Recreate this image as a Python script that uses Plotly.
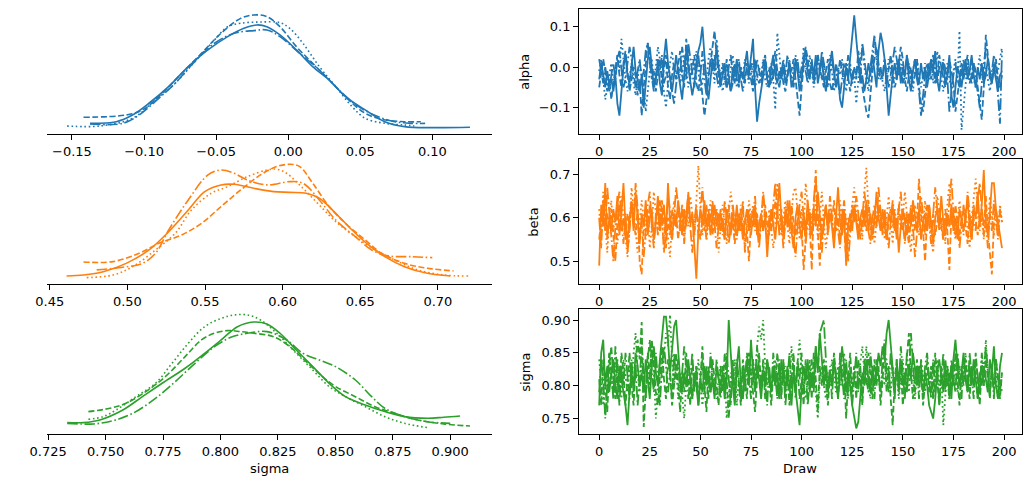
import plotly.graph_objects as go
from plotly.subplots import make_subplots

# ---------------- data ----------------
params = ["alpha", "beta", "sigma"]
colors = ["#1f77b4", "#ff7f0e", "#2ca02c"]
draws = list(range(200))

# KDE curves (x value, density) per chain
kde_alpha_x = [
    [-0.1375,-0.1193,-0.108,-0.0966,-0.083,-0.0693,-0.0557,-0.042,-0.0307,-0.0216,-0.0148,-0.0057,0.0057,0.017,0.0284,0.0398,0.0534,0.067,0.0807,0.1,0.1261],
    [-0.142,-0.1125,-0.1011,-0.0898,-0.0761,-0.0602,-0.0466,-0.033,-0.0239,-0.0148,-0.0057,0.0057,0.017,0.0307,0.042,0.0534,0.0648,0.0807,0.092],
    [-0.1534,-0.1307,-0.108,-0.092,-0.0784,-0.0648,-0.0511,-0.042,-0.033,-0.0193,-0.0057,0.0011,0.0102,0.0216,0.033,0.0443,0.0534,0.067,0.0807,0.0875],
    [-0.1375,-0.1148,-0.1034,-0.0898,-0.0784,-0.067,-0.0511,-0.0375,-0.0239,-0.0148,-0.0057,0.008,0.0216,0.0352,0.0489,0.0625,0.0739,0.0852,0.095],
]
kde_alpha_y = [
    [0.34,0.47,1.0,1.93,3.25,4.83,6.15,7.2,7.86,8.13,7.99,7.34,6.15,4.83,3.77,2.45,1.4,0.47,0.08,0.0,0.03],
    [0.82,1.0,1.40,2.45,4.04,5.88,7.47,8.65,8.92,8.79,7.99,6.41,5.09,3.51,2.19,1.14,0.66,0.47,0.47],
    [0.13,0.13,0.74,2.19,3.51,5.22,6.94,7.99,8.26,8.36,8.31,7.86,6.68,4.83,3.25,1.66,0.74,0.34,0.21,0.13],
    [0.29,0.34,1.0,2.32,3.51,4.96,6.68,7.47,7.68,7.73,7.20,5.88,4.56,2.98,1.66,0.87,0.47,0.34,0.34],
]
kde_beta_x = [
    [0.4608,0.4717,0.4844,0.4992,0.5139,0.5266,0.5392,0.5498,0.5603,0.5688,0.5814,0.5941,0.6046,0.6152,0.6236,0.6342,0.6447,0.6553,0.6658,0.6785,0.6932,0.7080],
    [0.4717,0.4907,0.5076,0.5203,0.5350,0.5477,0.5603,0.5730,0.5857,0.5962,0.6046,0.6110,0.6194,0.6300,0.6405,0.6532,0.6637,0.6785,0.6932,0.7101],
    [0.4738,0.4907,0.5034,0.5181,0.5308,0.5413,0.5540,0.5646,0.5772,0.5899,0.5962,0.6025,0.6131,0.6236,0.6342,0.6468,0.6595,0.6722,0.6869,0.7038,0.7196],
    [0.4802,0.4970,0.5097,0.5181,0.5266,0.5392,0.5519,0.5603,0.5688,0.5772,0.5899,0.6046,0.6131,0.6236,0.6342,0.6468,0.6574,0.6679,0.6827,0.6964],
]
kde_beta_y = [
    [0.13,0.21,0.47,1.13,2.19,3.64,5.36,6.81,7.34,7.39,7.07,6.81,6.75,6.68,6.28,5.09,3.77,2.59,1.66,0.87,0.34,0.13],
    [1.24,1.27,1.93,2.72,3.38,4.30,5.62,6.94,8.13,8.79,8.97,8.79,7.47,5.62,4.30,2.98,1.93,1.13,0.74,0.53],
    [0.0,0.21,0.87,2.19,3.51,5.36,6.68,7.20,7.99,8.52,8.58,8.26,7.07,5.75,4.43,3.25,2.19,1.40,0.61,0.21,0.13],
    [0.61,0.82,1.13,1.93,3.77,6.15,8.13,8.52,8.26,7.73,7.34,7.60,7.47,6.15,4.56,3.25,2.19,1.72,1.66,1.58],
]
kde_sigma_x = [
    [0.7333,0.7404,0.7475,0.7575,0.7660,0.7746,0.7846,0.7931,0.8003,0.8074,0.8145,0.8202,0.8259,0.8330,0.8402,0.8473,0.8544,0.8630,0.8715,0.8801,0.8901,0.8972,0.9043],
    [0.7425,0.7518,0.7589,0.7675,0.7760,0.7846,0.7917,0.7974,0.8031,0.8088,0.8145,0.8231,0.8302,0.8373,0.8444,0.8501,0.8587,0.8672,0.8758,0.8858,0.8972,0.9086],
    [0.7425,0.7489,0.7546,0.7632,0.7717,0.7789,0.7860,0.7931,0.8003,0.8060,0.8117,0.8174,0.8245,0.8316,0.8402,0.8473,0.8544,0.8630,0.8715,0.8801,0.8901],
    [0.7333,0.7447,0.7532,0.7618,0.7717,0.7803,0.7889,0.7974,0.8045,0.8117,0.8202,0.8288,0.8359,0.8430,0.8501,0.8587,0.8658,0.8715,0.8801,0.8901,0.9000],
]
kde_sigma_y = [
    [0.40,0.40,0.61,1.40,2.45,3.51,4.70,5.88,6.94,7.99,8.36,8.21,7.47,6.15,4.83,3.51,2.45,1.79,1.27,0.87,0.74,0.82,0.92],
    [1.27,1.53,1.93,2.85,4.04,5.62,6.94,7.47,7.68,7.60,7.47,7.20,6.41,5.22,4.04,3.25,2.45,1.66,1.13,0.61,0.29,0.13],
    [0.66,0.87,1.40,2.45,3.51,5.09,6.68,7.99,8.65,8.92,8.92,8.52,7.47,6.15,4.56,3.25,2.45,1.66,0.87,0.34,0.0],
    [0.34,0.29,0.55,1.13,2.32,3.64,5.09,6.41,7.15,7.47,7.60,6.94,5.88,5.36,4.83,3.77,2.45,1.53,0.87,0.47,0.34],
]

# Trace values (4 chains x 200 draws)
alpha_c0 = [-0.03,0.01,-0.02,-0.05,-0.01,-0.04,-0.03,-0.06,-0.02,-0.09,-0.12,-0.05,0.00,0.03,-0.02,-0.04,0.01,0.05,-0.01,-0.03,
-0.06,-0.02,-0.10,-0.04,0.02,0.05,-0.01,-0.05,-0.03,0.01,-0.04,-0.07,0.02,0.07,0.01,-0.03,-0.06,-0.02,0.03,-0.01,
-0.05,-0.08,-0.02,0.04,0.00,-0.03,-0.07,-0.04,0.01,0.04,0.06,0.10,0.02,-0.04,-0.08,-0.03,0.02,-0.01,0.05,0.00,
-0.04,-0.02,0.01,-0.05,-0.03,-0.06,0.00,-0.02,0.02,-0.04,-0.01,-0.03,0.01,0.04,-0.02,0.02,0.07,-0.05,-0.135,-0.09,
-0.06,-0.02,0.01,-0.03,-0.05,0.00,0.03,-0.02,-0.04,-0.01,-0.03,0.00,-0.04,-0.02,0.01,-0.05,-0.03,0.02,-0.01,-0.06,
-0.03,0.02,0.04,-0.01,-0.03,0.01,-0.02,0.03,-0.04,-0.01,0.02,-0.03,-0.06,-0.02,0.01,0.04,-0.01,-0.05,-0.02,-0.08,
-0.10,-0.04,0.00,-0.03,0.02,0.06,0.128,0.07,0.01,-0.04,-0.02,-0.06,-0.03,0.01,-0.02,0.03,-0.01,-0.05,0.04,0.085,
0.06,0.02,-0.05,-0.12,-0.07,-0.02,0.01,-0.03,0.02,-0.04,0.00,-0.02,0.03,-0.03,-0.06,-0.01,0.02,-0.02,-0.04,0.01,
-0.03,0.00,-0.05,-0.02,0.02,-0.01,0.04,-0.03,-0.06,-0.01,0.01,-0.04,-0.02,0.03,-0.07,-0.10,-0.04,0.00,-0.02,-0.05,
-0.01,0.02,-0.03,-0.01,0.03,-0.02,-0.05,0.00,-0.03,0.01,-0.04,-0.02,0.02,-0.01,-0.04,0.00,-0.03,-0.06,-0.02,-0.01]
alpha_c1 = [-0.05,-0.02,0.02,-0.01,-0.06,-0.03,-0.08,-0.04,-0.01,0.03,-0.02,-0.05,0.01,0.04,-0.01,-0.06,-0.03,0.00,-0.02,-0.07,
-0.03,-0.12,-0.05,0.01,0.06,0.02,-0.03,-0.01,-0.06,-0.02,0.02,-0.04,-0.01,0.03,-0.05,-0.08,-0.02,0.01,-0.03,0.00,
0.04,-0.02,-0.05,0.07,0.02,-0.03,-0.01,0.03,-0.04,-0.06,-0.02,-0.07,-0.12,-0.08,-0.02,0.01,0.05,0.09,0.03,-0.03,
-0.05,-0.01,-0.03,0.02,-0.02,-0.06,-0.04,0.01,-0.03,-0.05,0.00,-0.02,-0.04,0.01,-0.01,-0.03,-0.06,0.02,-0.02,-0.04,
-0.02,0.01,0.03,-0.02,-0.05,-0.03,0.00,0.04,-0.01,-0.03,0.00,-0.04,-0.06,-0.02,0.01,-0.01,0.02,-0.03,-0.08,-0.12,
-0.05,0.00,0.05,0.02,-0.02,0.01,-0.04,-0.02,0.03,0.00,-0.03,-0.05,-0.01,0.02,-0.04,-0.06,-0.03,0.01,-0.02,0.02,
-0.01,-0.04,0.01,-0.03,-0.06,-0.02,0.00,-0.03,0.04,0.01,-0.05,-0.08,-0.11,-0.125,-0.06,-0.01,0.02,0.05,0.01,-0.03,
-0.02,0.02,-0.04,-0.01,0.03,-0.02,-0.05,-0.03,0.01,0.05,0.02,-0.03,-0.06,-0.02,0.00,-0.04,-0.02,0.02,-0.05,-0.09,
-0.11,-0.06,-0.02,0.01,-0.03,0.00,-0.04,-0.02,0.03,0.00,-0.03,-0.05,-0.02,0.02,-0.01,-0.04,-0.11,-0.07,-0.02,0.01,
-0.03,0.00,0.03,-0.02,-0.04,0.01,-0.01,-0.05,-0.09,-0.13,-0.05,0.08,0.03,-0.02,-0.04,0.00,0.02,-0.03,-0.05,-0.02]
alpha_c2 = [-0.01,0.02,-0.03,-0.08,-0.05,-0.02,0.01,-0.04,-0.02,0.03,-0.01,0.07,0.02,-0.03,-0.06,-0.02,0.01,-0.04,-0.07,-0.03,
0.01,-0.02,-0.05,-0.11,-0.06,-0.01,0.02,-0.03,0.00,0.05,0.02,-0.03,-0.06,-0.10,-0.04,0.01,0.04,-0.01,-0.03,0.00,
-0.04,-0.02,0.03,0.00,-0.05,-0.03,0.02,-0.01,0.04,-0.02,-0.06,-0.04,0.01,-0.03,0.02,0.05,0.00,-0.04,0.07,0.02,
-0.03,-0.06,-0.02,0.01,-0.04,-0.01,0.03,-0.02,-0.05,-0.03,0.00,-0.02,0.02,-0.01,-0.04,-0.02,0.01,-0.05,-0.03,0.00,
-0.02,0.02,-0.03,-0.05,-0.02,0.01,-0.03,-0.105,0.085,0.03,-0.02,0.01,-0.04,-0.02,0.02,-0.03,-0.01,0.03,0.00,-0.04,
-0.02,0.05,0.01,-0.03,0.03,-0.01,-0.05,-0.02,0.02,0.00,-0.03,0.01,-0.04,-0.02,0.03,-0.01,-0.06,-0.03,0.00,-0.02,
0.02,-0.03,-0.06,-0.02,0.01,-0.04,-0.02,-0.09,-0.04,0.02,0.05,0.00,-0.03,-0.06,-0.02,0.01,0.07,0.02,-0.03,-0.01,
-0.04,-0.06,-0.02,0.02,-0.01,-0.05,-0.03,0.01,-0.02,0.03,-0.01,-0.04,-0.02,0.01,-0.03,-0.06,-0.01,0.02,-0.02,-0.05,
-0.02,0.01,-0.03,-0.01,0.02,-0.04,-0.02,0.04,0.00,-0.03,-0.06,-0.02,0.01,-0.03,-0.05,-0.01,0.02,-0.03,0.09,-0.155,
-0.10,-0.03,0.01,-0.02,0.02,-0.03,-0.05,-0.01,0.03,-0.02,-0.04,0.00,-0.03,-0.06,-0.02,0.01,-0.03,-0.01,0.02,0.05]
alpha_c3 = [0.02,-0.01,-0.04,0.00,-0.03,-0.06,-0.02,0.01,-0.03,0.02,0.04,-0.01,-0.05,-0.03,0.01,0.05,0.02,-0.02,-0.05,-0.01,
0.02,-0.03,-0.01,0.04,0.06,0.01,-0.03,-0.06,-0.02,0.02,-0.01,0.03,-0.04,-0.02,0.01,-0.03,-0.06,-0.09,-0.04,0.00,
-0.02,0.05,0.01,-0.03,0.06,0.02,-0.02,-0.05,-0.01,0.03,-0.02,0.04,-0.03,-0.07,-0.03,0.02,-0.01,0.03,-0.02,-0.05,
-0.02,0.01,-0.03,-0.05,0.00,0.03,-0.02,-0.04,-0.01,0.02,-0.03,-0.06,-0.02,0.00,-0.03,0.01,-0.04,-0.02,0.02,-0.01,
-0.04,-0.01,0.02,-0.03,0.00,-0.04,-0.02,0.01,-0.03,-0.05,-0.01,0.02,-0.02,0.03,0.00,-0.03,-0.05,-0.01,0.02,-0.03,
0.00,0.03,-0.01,-0.04,-0.02,0.02,-0.03,-0.01,0.03,-0.02,0.04,0.01,-0.03,-0.05,-0.01,0.02,-0.02,0.00,-0.04,-0.07,
-0.03,0.01,-0.02,0.03,-0.01,-0.04,0.00,-0.02,0.02,-0.03,0.06,0.02,-0.02,-0.04,0.00,0.04,0.08,0.03,-0.02,0.00,
-0.03,0.02,-0.01,-0.05,-0.02,0.01,0.05,0.02,-0.02,0.00,-0.04,-0.02,0.03,0.00,-0.03,-0.01,0.02,-0.03,-0.06,-0.12,
-0.07,-0.02,0.01,-0.03,0.00,0.03,-0.02,-0.04,0.00,-0.02,0.02,-0.01,-0.03,-0.11,-0.06,-0.02,0.01,-0.03,-0.05,-0.01,
0.02,-0.02,0.00,-0.04,-0.02,0.01,-0.03,-0.06,-0.10,-0.04,0.01,0.05,0.02,-0.03,-0.01,0.03,0.00,-0.06,-0.14,0.04]

beta_c0 = [0.49,0.63,0.58,0.68,0.55,0.60,0.57,0.62,0.59,0.65,0.56,0.61,0.68,0.58,0.55,0.60,0.63,0.57,0.66,0.59,
0.54,0.61,0.58,0.64,0.56,0.60,0.62,0.55,0.59,0.65,0.57,0.60,0.63,0.56,0.68,0.59,0.55,0.61,0.58,0.64,
0.60,0.56,0.62,0.58,0.65,0.59,0.61,0.54,0.46,0.57,0.62,0.59,0.64,0.58,0.61,0.56,0.60,0.63,0.58,0.61,
0.57,0.60,0.55,0.62,0.59,0.56,0.61,0.58,0.63,0.57,0.60,0.55,0.59,0.62,0.57,0.60,0.58,0.63,0.56,0.59,
0.61,0.57,0.60,0.51,0.58,0.62,0.59,0.55,0.61,0.68,0.60,0.56,0.62,0.58,0.64,0.57,0.53,0.60,0.63,0.58,
0.55,0.61,0.57,0.64,0.59,0.56,0.62,0.58,0.66,0.60,0.55,0.59,0.63,0.57,0.61,0.58,0.53,0.60,0.67,0.59,
0.56,0.62,0.49,0.58,0.61,0.57,0.63,0.59,0.55,0.60,0.62,0.58,0.64,0.57,0.61,0.56,0.59,0.66,0.60,0.57,
0.62,0.58,0.55,0.61,0.59,0.63,0.57,0.60,0.52,0.58,0.62,0.59,0.56,0.61,0.58,0.64,0.60,0.57,0.62,0.55,
0.59,0.61,0.57,0.63,0.58,0.54,0.60,0.62,0.58,0.65,0.59,0.56,0.61,0.58,0.63,0.57,0.60,0.55,0.62,0.59,
0.57,0.61,0.64,0.58,0.55,0.62,0.60,0.66,0.58,0.63,0.71,0.59,0.56,0.61,0.68,0.68,0.62,0.59,0.56,0.53]
beta_c1 = [0.55,0.60,0.64,0.57,0.61,0.58,0.62,0.56,0.50,0.59,0.63,0.57,0.60,0.55,0.61,0.58,0.64,0.59,0.56,0.62,
0.50,0.47,0.58,0.61,0.57,0.63,0.59,0.55,0.60,0.62,0.57,0.64,0.59,0.53,0.60,0.56,0.62,0.58,0.61,0.55,
0.59,0.63,0.57,0.60,0.65,0.58,0.61,0.56,0.62,0.59,0.55,0.60,0.57,0.63,0.58,0.61,0.56,0.60,0.62,0.57,
0.61,0.58,0.55,0.60,0.63,0.57,0.59,0.54,0.61,0.58,0.62,0.56,0.60,0.57,0.50,0.59,0.62,0.58,0.61,0.55,
0.60,0.57,0.63,0.59,0.56,0.61,0.58,0.64,0.60,0.57,0.62,0.55,0.59,0.61,0.57,0.63,0.59,0.56,0.60,0.62,
0.58,0.48,0.55,0.61,0.59,0.48,0.62,0.71,0.57,0.49,0.60,0.58,0.63,0.56,0.61,0.59,0.64,0.57,0.60,0.55,
0.62,0.58,0.50,0.60,0.57,0.63,0.59,0.61,0.56,0.60,0.58,0.62,0.57,0.64,0.59,0.55,0.61,0.58,0.63,0.60,
0.57,0.61,0.55,0.59,0.62,0.58,0.60,0.56,0.63,0.59,0.57,0.61,0.58,0.54,0.60,0.62,0.57,0.59,0.69,0.61,
0.57,0.50,0.60,0.63,0.58,0.61,0.56,0.59,0.62,0.58,0.55,0.60,0.57,0.48,0.61,0.58,0.63,0.59,0.56,0.60,
0.62,0.58,0.54,0.61,0.57,0.63,0.59,0.56,0.60,0.62,0.58,0.65,0.57,0.52,0.47,0.59,0.62,0.58,0.61,0.60]
beta_c2 = [0.62,0.55,0.66,0.58,0.52,0.60,0.64,0.57,0.61,0.54,0.59,0.65,0.60,0.56,0.51,0.58,0.67,0.62,0.57,0.52,
0.59,0.64,0.60,0.55,0.62,0.53,0.58,0.66,0.61,0.57,0.63,0.59,0.54,0.60,0.56,0.51,0.59,0.64,0.58,0.63,
0.57,0.61,0.55,0.62,0.58,0.65,0.61,0.56,0.64,0.72,0.62,0.56,0.61,0.55,0.59,0.64,0.60,0.57,0.62,0.52,
0.58,0.63,0.59,0.54,0.61,0.66,0.62,0.56,0.60,0.57,0.63,0.58,0.53,0.59,0.64,0.60,0.63,0.57,0.61,0.55,
0.59,0.65,0.60,0.55,0.62,0.58,0.53,0.57,0.68,0.62,0.56,0.60,0.64,0.58,0.54,0.61,0.66,0.67,0.60,0.55,
0.62,0.57,0.68,0.63,0.56,0.61,0.58,0.64,0.55,0.60,0.66,0.59,0.53,0.58,0.63,0.60,0.56,0.62,0.58,0.64,
0.57,0.62,0.60,0.54,0.58,0.63,0.67,0.61,0.56,0.60,0.55,0.66,0.715,0.62,0.57,0.60,0.54,0.59,0.63,0.58,
0.61,0.55,0.60,0.65,0.59,0.54,0.62,0.58,0.63,0.57,0.60,0.66,0.61,0.56,0.52,0.59,0.63,0.60,0.56,0.62,
0.58,0.64,0.57,0.61,0.55,0.52,0.60,0.65,0.62,0.57,0.60,0.54,0.63,0.68,0.61,0.58,0.55,0.59,0.64,0.60,
0.56,0.62,0.58,0.53,0.60,0.64,0.69,0.62,0.57,0.60,0.55,0.62,0.58,0.65,0.60,0.56,0.61,0.57,0.63,0.59]
beta_c3 = [0.60,0.53,0.64,0.57,0.67,0.61,0.55,0.50,0.58,0.63,0.66,0.59,0.54,0.61,0.52,0.57,0.64,0.60,0.68,0.62,
0.55,0.59,0.51,0.57,0.63,0.66,0.58,0.53,0.61,0.56,0.64,0.60,0.52,0.58,0.65,0.62,0.55,0.60,0.67,0.63,
0.57,0.62,0.54,0.60,0.66,0.58,0.52,0.59,0.63,0.56,0.61,0.67,0.60,0.55,0.62,0.57,0.64,0.59,0.53,0.58,
0.62,0.56,0.64,0.60,0.54,0.58,0.63,0.59,0.55,0.61,0.57,0.64,0.52,0.58,0.62,0.56,0.60,0.65,0.58,0.53,
0.59,0.66,0.61,0.55,0.60,0.57,0.63,0.68,0.62,0.56,0.59,0.53,0.60,0.64,0.58,0.62,0.55,0.51,0.58,0.63,
0.66,0.60,0.54,0.59,0.62,0.56,0.64,0.69,0.61,0.57,0.52,0.59,0.63,0.58,0.65,0.60,0.55,0.61,0.57,0.53,
0.60,0.64,0.58,0.50,0.56,0.62,0.59,0.65,0.61,0.55,0.60,0.66,0.62,0.57,0.54,0.60,0.63,0.58,0.67,0.61,
0.56,0.62,0.58,0.53,0.59,0.64,0.60,0.55,0.62,0.66,0.59,0.54,0.61,0.57,0.63,0.58,0.51,0.57,0.62,0.65,
0.60,0.56,0.63,0.59,0.54,0.61,0.67,0.62,0.57,0.60,0.55,0.62,0.58,0.64,0.69,0.61,0.56,0.60,0.53,0.58,
0.63,0.59,0.66,0.61,0.55,0.60,0.57,0.64,0.68,0.62,0.56,0.59,0.53,0.61,0.57,0.64,0.60,0.55,0.62,0.59]

sigma_c0 = [0.77,0.85,0.87,0.80,0.83,0.79,0.82,0.84,0.80,0.78,0.83,0.81,0.79,0.77,0.74,0.79,0.82,0.80,0.85,0.83,
0.80,0.82,0.79,0.84,0.81,0.78,0.83,0.86,0.82,0.80,0.84,0.88,0.905,0.905,0.87,0.82,0.85,0.89,0.90,0.85,
0.81,0.79,0.82,0.80,0.84,0.81,0.78,0.82,0.80,0.77,0.81,0.79,0.83,0.80,0.82,0.79,0.81,0.78,0.83,0.81,
0.80,0.82,0.78,0.81,0.90,0.85,0.80,0.77,0.83,0.86,0.80,0.78,0.82,0.84,0.80,0.87,0.82,0.79,0.83,0.81,
0.78,0.82,0.80,0.84,0.81,0.79,0.83,0.80,0.82,0.78,0.84,0.81,0.79,0.83,0.80,0.77,0.82,0.79,0.76,0.74,
0.80,0.83,0.81,0.84,0.79,0.82,0.80,0.86,0.82,0.88,0.84,0.80,0.83,0.79,0.82,0.80,0.84,0.81,0.78,0.82,
0.86,0.83,0.79,0.82,0.80,0.77,0.75,0.735,0.745,0.79,0.82,0.80,0.84,0.81,0.79,0.83,0.80,0.82,0.85,0.83,
0.86,0.84,0.88,0.90,0.86,0.82,0.79,0.83,0.81,0.84,0.80,0.82,0.79,0.83,0.81,0.85,0.82,0.80,0.83,0.81,
0.79,0.82,0.80,0.77,0.76,0.75,0.78,0.82,0.84,0.81,0.79,0.83,0.80,0.82,0.78,0.84,0.87,0.83,0.80,0.82,
0.85,0.81,0.79,0.83,0.80,0.84,0.81,0.78,0.82,0.80,0.83,0.81,0.79,0.84,0.82,0.86,0.80,0.78,0.83,0.85]
sigma_c1 = [0.81,0.77,0.84,0.80,0.76,0.83,0.86,0.81,0.78,0.84,0.79,0.85,0.82,0.77,0.81,0.85,0.80,0.77,0.83,0.87,
0.84,0.897,0.737,0.79,0.85,0.81,0.87,0.83,0.79,0.77,0.82,0.86,0.81,0.78,0.84,0.82,0.77,0.80,0.85,0.80,
0.76,0.82,0.79,0.85,0.81,0.77,0.84,0.80,0.83,0.78,0.81,0.86,0.80,0.76,0.83,0.79,0.84,0.81,0.80,0.77,
0.83,0.79,0.85,0.81,0.75,0.80,0.84,0.78,0.83,0.80,0.77,0.84,0.81,0.78,0.85,0.82,0.80,0.76,0.81,0.85,
0.80,0.83,0.78,0.84,0.81,0.77,0.82,0.80,0.85,0.81,0.78,0.84,0.80,0.82,0.77,0.81,0.85,0.79,0.83,0.78,
0.81,0.77,0.84,0.80,0.83,0.78,0.85,0.81,0.76,0.83,0.80,0.84,0.81,0.77,0.82,0.80,0.85,0.81,0.78,0.84,
0.80,0.83,0.75,0.81,0.85,0.79,0.83,0.78,0.84,0.81,0.77,0.83,0.80,0.85,0.81,0.78,0.84,0.80,0.83,0.77,
0.81,0.85,0.79,0.83,0.78,0.74,0.81,0.84,0.79,0.83,0.77,0.81,0.85,0.88,0.82,0.78,0.81,0.84,0.80,0.83,
0.77,0.81,0.84,0.79,0.83,0.78,0.85,0.81,0.77,0.83,0.80,0.84,0.81,0.78,0.83,0.80,0.85,0.81,0.77,0.83,
0.80,0.84,0.81,0.78,0.83,0.80,0.85,0.81,0.77,0.83,0.80,0.84,0.81,0.78,0.83,0.79,0.84,0.81,0.78,0.82]
sigma_c2 = [0.84,0.80,0.77,0.82,0.79,0.85,0.81,0.78,0.83,0.80,0.82,0.78,0.84,0.81,0.79,0.83,0.80,0.85,0.88,0.82,
0.79,0.84,0.81,0.78,0.83,0.80,0.86,0.82,0.75,0.80,0.84,0.81,0.85,0.88,0.86,0.908,0.84,0.80,0.83,0.78,
0.82,0.79,0.75,0.80,0.83,0.81,0.78,0.82,0.80,0.84,0.81,0.77,0.80,0.83,0.81,0.79,0.82,0.80,0.78,0.81,
0.83,0.80,0.82,0.75,0.79,0.82,0.80,0.84,0.77,0.81,0.79,0.83,0.80,0.82,0.85,0.81,0.84,0.80,0.86,0.89,
0.87,0.90,0.83,0.80,0.82,0.79,0.81,0.84,0.80,0.78,0.82,0.80,0.83,0.81,0.79,0.86,0.82,0.80,0.84,0.87,
0.82,0.80,0.78,0.81,0.84,0.80,0.82,0.79,0.75,0.81,0.83,0.80,0.78,0.82,0.80,0.84,0.81,0.79,0.83,0.80,
0.82,0.85,0.81,0.78,0.82,0.80,0.83,0.79,0.81,0.84,0.86,0.82,0.86,0.80,0.78,0.82,0.80,0.83,0.81,0.79,
0.82,0.80,0.84,0.81,0.79,0.83,0.80,0.82,0.78,0.81,0.84,0.80,0.82,0.79,0.83,0.81,0.78,0.82,0.80,0.84,
0.81,0.79,0.82,0.80,0.83,0.78,0.81,0.84,0.80,0.82,0.74,0.79,0.83,0.81,0.80,0.84,0.82,0.79,0.83,0.80,
0.82,0.85,0.81,0.79,0.83,0.80,0.82,0.78,0.81,0.84,0.80,0.87,0.82,0.79,0.83,0.80,0.82,0.78,0.81,0.79]
sigma_c3 = [0.79,0.84,0.81,0.75,0.80,0.85,0.82,0.78,0.86,0.81,0.77,0.83,0.80,0.85,0.81,0.78,0.84,0.79,0.83,0.77,
0.81,0.86,0.82,0.78,0.84,0.87,0.82,0.79,0.85,0.81,0.77,0.83,0.86,0.83,0.79,0.82,0.78,0.85,0.81,0.84,
0.79,0.82,0.86,0.83,0.78,0.81,0.85,0.79,0.83,0.77,0.81,0.84,0.79,0.83,0.78,0.85,0.81,0.79,0.84,0.81,
0.78,0.83,0.79,0.85,0.81,0.77,0.83,0.79,0.84,0.81,0.78,0.83,0.79,0.85,0.82,0.78,0.84,0.81,0.86,0.82,
0.79,0.84,0.81,0.77,0.83,0.79,0.85,0.81,0.78,0.84,0.79,0.83,0.77,0.81,0.85,0.79,0.83,0.78,0.84,0.81,
0.85,0.79,0.83,0.77,0.81,0.84,0.79,0.86,0.82,0.88,0.89,0.90,0.84,0.79,0.83,0.78,0.84,0.81,0.79,0.85,
0.82,0.78,0.84,0.79,0.83,0.77,0.81,0.85,0.79,0.83,0.78,0.84,0.81,0.79,0.85,0.82,0.78,0.84,0.81,0.79,
0.84,0.87,0.82,0.79,0.85,0.81,0.78,0.84,0.79,0.86,0.82,0.78,0.85,0.81,0.88,0.83,0.79,0.83,0.78,0.84,
0.79,0.83,0.85,0.81,0.78,0.84,0.79,0.83,0.77,0.81,0.85,0.79,0.83,0.78,0.84,0.81,0.79,0.85,0.82,0.78,
0.84,0.81,0.79,0.85,0.82,0.78,0.84,0.81,0.79,0.85,0.82,0.86,0.83,0.79,0.83,0.78,0.84,0.81,0.79,0.82]

kde_x = [kde_alpha_x, kde_beta_x, kde_sigma_x]
kde_y = [kde_alpha_y, kde_beta_y, kde_sigma_y]
traces = [[alpha_c0, alpha_c1, alpha_c2, alpha_c3],
          [beta_c0, beta_c1, beta_c2, beta_c3],
          [sigma_c0, sigma_c1, sigma_c2, sigma_c3]]

left_ticks = [[-0.15, -0.10, -0.05, 0.00, 0.05, 0.10],
              [0.45, 0.50, 0.55, 0.60, 0.65, 0.70],
              [0.725, 0.750, 0.775, 0.800, 0.825, 0.850, 0.875, 0.900]]
left_ticktext = [["\u22120.15", "\u22120.10", "\u22120.05", "0.00", "0.05", "0.10"],
                 ["0.45", "0.50", "0.55", "0.60", "0.65", "0.70"],
                 ["0.725", "0.750", "0.775", "0.800", "0.825", "0.850", "0.875", "0.900"]]
right_yticks = [[-0.1, 0.0, 0.1], [0.5, 0.6, 0.7], [0.75, 0.80, 0.85, 0.90]]
right_yticktext = [["\u22120.1", "0.0", "0.1"], ["0.5", "0.6", "0.7"], ["0.75", "0.80", "0.85", "0.90"]]
draw_ticks = [0, 25, 50, 75, 100, 125, 150, 175, 200]

# ---------------- styles / layout ----------------
W, H = 1031, 487
kde_dashes = ["solid", "6px,2.6px", "1.6px,2.7px", "10.4px,2.6px,1.6px,2.6px"]
trace_dashes = ["solid", "6.7px,2.9px", "1.8px,3px", "11.5px,2.9px,1.8px,2.9px"]
left_xr = [[-0.167, 0.1411], [0.4485, 0.7346], [0.7247, 0.918]]
right_yr = [[-0.166, 0.143], [0.447, 0.7346], [0.726, 0.9163]]
kde_yr = [-0.528, 9.367]
row_px = [(9.3, 134.3), (159.3, 284.3), (309.3, 434.3)]
left_dom = [30 / W, 482 / W]
right_dom = [571 / W, 1022 / W]

fig = make_subplots(rows=3, cols=2)
font = dict(family="DejaVu Sans", size=13, color="black")

for r in range(3):
    for c in range(4):
        fig.add_trace(go.Scatter(x=kde_x[r][c], y=kde_y[r][c], mode="lines",
                                 line=dict(color=colors[r], width=1.6, dash=kde_dashes[c], shape="spline", smoothing=1.0),
                                 showlegend=False, hoverinfo="skip"), row=r + 1, col=1)
    for c in range(4):
        fig.add_trace(go.Scatter(x=draws, y=traces[r][c], mode="lines",
                                 line=dict(color=colors[r], width=1.8, dash=trace_dashes[c]),
                                 showlegend=False, hoverinfo="skip"), row=r + 1, col=2)

axis_common = dict(showgrid=False, zeroline=False, showline=True, linecolor="black", linewidth=1,
                   ticks="outside", ticklen=5, tickwidth=1, tickcolor="black", tickfont=font)

for r in range(3):
    top, bot = row_px[r]
    ydom = [1 - bot / H, 1 - top / H]
    li = 2 * r + 1
    ri = 2 * r + 2
    lx = "xaxis" if li == 1 else f"xaxis{li}"
    ly = "yaxis" if li == 1 else f"yaxis{li}"
    rx = f"xaxis{ri}"
    ry = f"yaxis{ri}"
    fig.update_layout({
        lx: dict(domain=left_dom, range=left_xr[r], tickmode="array", tickvals=left_ticks[r],
                 ticktext=left_ticktext[r], mirror=False, **axis_common),
        ly: dict(domain=ydom, range=kde_yr, visible=False),
        rx: dict(domain=right_dom, range=[-9.95, 208.95], tickmode="array", tickvals=draw_ticks,
                 ticktext=[str(t) for t in draw_ticks], mirror=True, **axis_common),
        ry: dict(domain=ydom, range=right_yr[r], tickmode="array", tickvals=right_yticks[r],
                 ticktext=right_yticktext[r], mirror=True, **axis_common),
    })

annotations = [
    dict(text="alpha", x=516 / W, y=1 - 71.8 / H, textangle=-90),
    dict(text="beta", x=525 / W, y=1 - 221.8 / H, textangle=-90),
    dict(text="sigma", x=517 / W, y=1 - 371.8 / H, textangle=-90),
    dict(text="sigma", x=256 / W, y=1 - 468 / H, textangle=0),
    dict(text="Draw", x=796 / W, y=1 - 468 / H, textangle=0),
]
for a in annotations:
    a.update(xref="paper", yref="paper", showarrow=False, xanchor="center", yanchor="middle", font=font)

fig.update_layout(width=W, height=H, margin=dict(l=0, r=0, t=0, b=0),
                  paper_bgcolor="white", plot_bgcolor="white", annotations=annotations,
                  showlegend=False, font=font)

fig.write_html("out.html")
